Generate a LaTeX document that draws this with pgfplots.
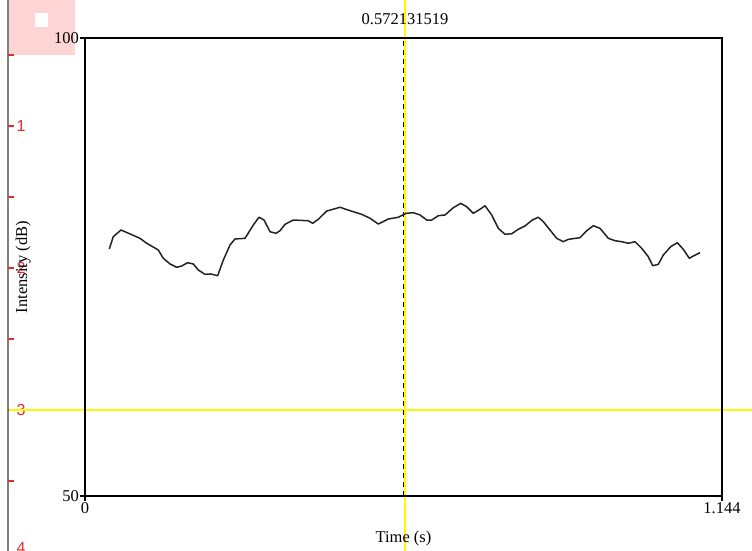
\documentclass[border=0pt]{standalone}
\usepackage{fontspec}
\setmainfont{Liberation Serif}
\newfontfamily\redsans{Liberation Sans}
\usepackage{pgfplots}
\pgfplotsset{compat=1.18}
\definecolor{pinkbg}{RGB}{255,212,212}
\definecolor{scalered}{RGB}{225,45,45}
\definecolor{ylw}{RGB}{255,250,0}
\definecolor{curve}{RGB}{35,35,35}
\begin{document}
\fontsize{16.5}{19}\selectfont
\begin{tikzpicture}[x=1pt,y=1pt]
\useasboundingbox (0,0) rectangle (752,551);
% pink box with white square
\fill[pinkbg] (8,551) rectangle (75,496);
\fill[white] (35,538) rectangle (48,524);
% gray left scale line
\draw[gray,line width=1.5pt] (8,0) -- (8,551);
% red ticks
\foreach \yy in {496,425,354,283,212,141,70,-1}{\draw[scalered,line width=1.2pt] (8,\yy) -- (14,\yy);}
\begin{scope}[every node/.style={scalered,anchor=center,font=\redsans\fontsize{16}{18}\selectfont}]
\node at (21,425) {1};
\node at (21,283) {2};
\node at (21,141) {3};
\node at (21,3) {4};
\end{scope}
% yellow cursor lines
\draw[ylw,line width=1.8pt] (9,141) -- (752,141);
\draw[ylw,line width=1.8pt] (405,0) -- (405,551);
\node[anchor=center] at (405,532) {0.572131519};
\begin{axis}[
  at={(85pt,55pt)}, anchor=south west,
  scale only axis, width=637pt, height=458pt,
  xmin=0, xmax=1.144, ymin=50, ymax=100,
  axis line style={line width=2.8pt},
  xtick={0,1.144}, xticklabels={0,1.144},
  ytick={50,100}, yticklabels={50,100},
  tick align=outside, major tick length=5pt,
  tick style={line width=1.2pt,black},
  xtick pos=bottom, ytick pos=left,
  /pgf/number format/assume math mode=true,
  ticklabel style={font=\fontsize{16.5}{19}\selectfont},
  yticklabel style={inner sep=1pt},
  xticklabel style={inner sep=1pt},
  xlabel={Time (s)}, ylabel={Intensity (dB)},
  label style={font=\fontsize{16.5}{19}\selectfont},
  xlabel style={at={(axis description cs:0.5,-0.092)},anchor=center},
  ylabel style={at={(axis description cs:-0.097,0.5)},anchor=center},
  clip=false,
]
\addplot[black,dashed,line width=1.4pt,dash pattern=on 5pt off 4pt] coordinates {(0.5721,50) (0.5721,100)};
\addplot[curve,line width=1.5pt,line join=round] coordinates {
(0.0436,76.97) (0.0508,78.31) (0.0647,79.04) (0.0988,78.13) (0.1108,77.59)
(0.1316,76.86) (0.1406,75.95) (0.1527,75.33) (0.1647,74.97) (0.1737,75.11)
(0.1844,75.47) (0.1945,75.33) (0.2035,74.67) (0.2155,74.20) (0.2258,74.24)
(0.2383,74.05) (0.2484,75.76) (0.2604,77.40) (0.2694,78.06) (0.2874,78.13)
(0.3023,79.59) (0.3125,80.43) (0.3215,80.13) (0.3323,78.85) (0.3430,78.68)
(0.3502,78.96) (0.3592,79.66) (0.3741,80.13) (0.4010,80.05) (0.4089,79.77)
(0.4190,80.21) (0.4341,81.11) (0.4580,81.52) (0.4759,81.15) (0.4969,80.75)
(0.5119,80.32) (0.5268,79.69) (0.5447,80.24) (0.5627,80.43) (0.5765,80.86)
(0.5896,80.93) (0.6017,80.68) (0.6137,80.13) (0.6227,80.13) (0.6345,80.60)
(0.6466,80.68) (0.6614,81.47) (0.6748,81.95) (0.6855,81.58) (0.6974,80.86)
(0.7094,81.30) (0.7184,81.69) (0.7304,80.68) (0.7423,79.22) (0.7543,78.57)
(0.7663,78.63) (0.7782,79.12) (0.7902,79.48) (0.8033,80.13) (0.8141,80.43)
(0.8231,79.95) (0.8351,79.04) (0.8472,78.13) (0.8590,77.76) (0.8680,78.02)
(0.8890,78.20) (0.9010,78.96) (0.9129,79.51) (0.9249,79.22) (0.9398,78.13)
(0.9519,77.87) (0.9639,77.76) (0.9758,77.59) (0.9878,77.76) (0.9998,77.04)
(1.0117,76.12) (1.0196,75.14) (1.0296,75.29) (1.0386,76.31) (1.0519,77.22)
(1.0638,77.65) (1.0745,76.93) (1.0853,75.95) (1.0925,76.20) (1.1045,76.56)
};
\end{axis}
\end{tikzpicture}
\end{document}
